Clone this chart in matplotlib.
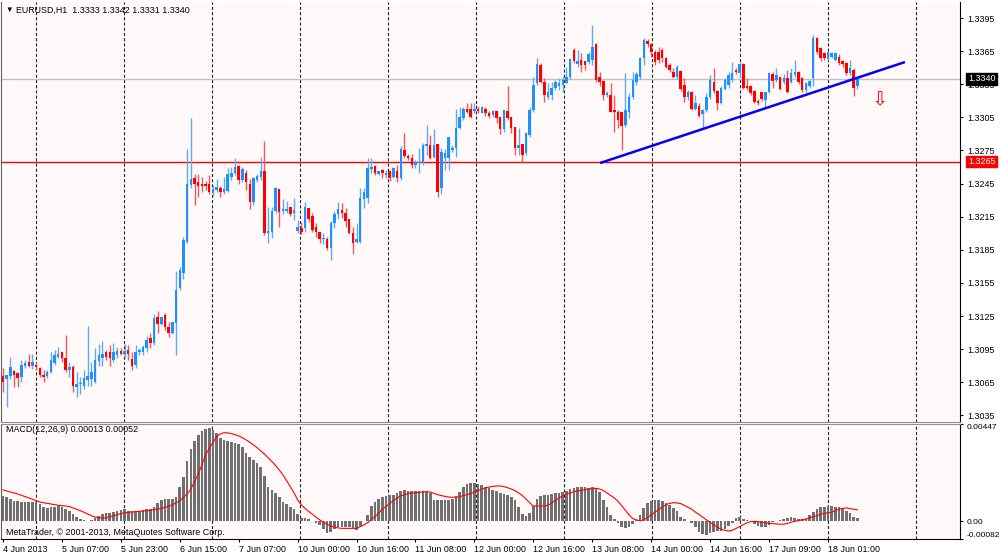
import numpy as np
import matplotlib
matplotlib.use('Agg')
import matplotlib.pyplot as plt
from matplotlib.transforms import blended_transform_factory
from matplotlib.patches import Rectangle

plt.rcParams['font.family'] = ['Liberation Sans', 'DejaVu Sans']

# ---------------- data (EURUSD H1, prices in units of 0.0001) ----------------
open_pts = [13071,13068,13071,13075,13073,13070,13080,13083,13080,13081,13078,13072,13071,13074,13082,13088,13092,13087,13076,13079,
13061,13063,13062,13067,13068,13065,13084,13087,13092,13092,13085,13090,13093,13091,13094,13086,13081,13092,13092,13096,
13105,13101,13124,13118,13126,13115,13110,13119,13150,13164,13192,13244,13250,13246,13245,13245,13245,13237,13239,13241,
13237,13238,13251,13255,13261,13248,13255,13245,13228,13248,13251,13256,13200,13201,13220,13240,13220,13220,13224,13218,
13202,13205,13205,13223,13216,13206,13201,13195,13195,13187,13209,13217,13221,13218,13213,13200,13192,13192,13231,13232,
13258,13261,13254,13257,13253,13256,13251,13256,13250,13275,13270,13268,13262,13264,13265,13279,13280,13269,13281,13241,
13268,13268,13275,13277,13295,13304,13313,13313,13311,13313,13309,13313,13309,13307,13311,13305,13294,13311,13305,13296,
13277,13281,13273,13289,13312,13336,13352,13337,13323,13325,13332,13333,13334,13336,13342,13366,13353,13357,13356,13355,
13357,13371,13342,13338,13325,13325,13312,13310,13310,13298,13310,13323,13337,13342,13359,13374,13371,13364,13364,13366,
13359,13352,13346,13342,13347,13334,13323,13328,13313,13315,13308,13312,13323,13337,13329,13318,13331,13334,13339,13348,
13345,13353,13333,13333,13329,13320,13328,13321,13328,13344,13339,13342,13337,13341,13337,13343,13346,13341,13330,13333,
13341,13377,13368,13363,13358,13360,13357,13360,13356,13354,13345,13348,13333]
high_pts = [13078,13072,13088,13076,13074,13085,13085,13091,13091,13083,13079,13076,13076,13092,13094,13097,13092,13108,13083,13081,
13074,13070,13076,13116,13083,13096,13100,13102,13094,13099,13101,13097,13096,13100,13099,13092,13099,13096,13099,13107,
13110,13127,13130,13124,13128,13120,13120,13166,13169,13197,13276,13304,13254,13254,13251,13247,13253,13244,13249,13243,
13251,13259,13260,13268,13262,13260,13257,13249,13251,13254,13269,13284,13224,13224,13242,13240,13231,13229,13224,13232,
13212,13210,13228,13223,13218,13209,13201,13200,13197,13211,13220,13228,13227,13223,13213,13206,13209,13241,13241,13268,
13268,13262,13256,13258,13257,13256,13260,13262,13279,13291,13272,13272,13266,13277,13282,13298,13289,13294,13281,13277,
13276,13287,13280,13313,13314,13314,13318,13318,13318,13315,13315,13314,13311,13312,13311,13305,13312,13333,13305,13296,
13295,13281,13292,13314,13342,13359,13354,13341,13336,13337,13339,13341,13342,13351,13359,13368,13366,13363,13356,13364,
13389,13372,13346,13339,13329,13336,13325,13312,13310,13345,13327,13346,13346,13360,13377,13376,13372,13366,13369,13368,
13360,13354,13350,13352,13348,13341,13330,13329,13325,13318,13313,13327,13343,13350,13330,13333,13341,13346,13355,13350,
13355,13354,13341,13334,13330,13322,13328,13328,13346,13346,13350,13342,13344,13348,13350,13357,13347,13342,13337,13339,
13380,13378,13369,13364,13365,13364,13364,13362,13357,13355,13357,13350,13342]
low_pts = [13056,13043,13068,13061,13061,13065,13078,13079,13077,13076,13070,13065,13069,13073,13081,13087,13083,13074,13070,13056,
13052,13054,13059,13062,13062,13064,13080,13080,13085,13080,13083,13087,13090,13087,13085,13076,13078,13090,13090,13092,
13096,13099,13110,13117,13112,13106,13109,13090,13149,13159,13191,13241,13226,13233,13237,13239,13236,13234,13237,13233,
13236,13237,13248,13253,13245,13246,13239,13222,13226,13246,13248,13198,13191,13196,13218,13206,13217,13218,13216,13212,
13200,13199,13201,13210,13201,13197,13191,13190,13185,13176,13205,13213,13214,13206,13199,13181,13191,13191,13223,13227,
13255,13253,13253,13250,13250,13247,13250,13246,13248,13268,13266,13259,13259,13255,13262,13271,13267,13268,13233,13236,
13257,13257,13274,13269,13294,13303,13309,13304,13309,13309,13309,13306,13304,13305,13300,13290,13292,13303,13291,13271,
13271,13265,13271,13287,13310,13334,13336,13319,13322,13321,13330,13330,13328,13336,13340,13354,13351,13346,13348,13353,
13352,13337,13333,13321,13323,13310,13292,13295,13275,13296,13304,13322,13334,13340,13352,13369,13360,13352,13354,13355,
13350,13346,13341,13340,13329,13319,13321,13312,13312,13305,13295,13310,13322,13327,13312,13317,13330,13332,13337,13344,
13341,13331,13330,13325,13318,13316,13320,13314,13327,13332,13337,13330,13335,13327,13336,13342,13335,13328,13328,13332,
13333,13362,13356,13357,13357,13359,13356,13352,13351,13343,13343,13324,13331]
close_pts = [13065,13072,13079,13072,13069,13081,13082,13080,13083,13079,13072,13070,13074,13085,13090,13091,13087,13076,13079,13062,
13063,13064,13069,13071,13074,13085,13090,13091,13088,13087,13092,13093,13091,13093,13091,13080,13092,13094,13097,13103,
13101,13123,13118,13124,13115,13110,13120,13149,13167,13194,13245,13249,13245,13243,13243,13243,13237,13240,13242,13237,
13240,13254,13255,13260,13248,13258,13246,13228,13250,13252,13256,13200,13202,13220,13241,13219,13222,13222,13217,13221,
13206,13201,13224,13213,13203,13201,13195,13196,13187,13209,13217,13222,13218,13211,13200,13191,13195,13232,13237,13259,
13260,13255,13256,13255,13255,13250,13259,13250,13276,13270,13268,13262,13265,13265,13280,13281,13268,13280,13237,13274,
13273,13287,13277,13295,13305,13313,13310,13305,13313,13311,13314,13309,13306,13311,13304,13294,13312,13304,13295,13277,
13280,13271,13291,13312,13334,13353,13337,13325,13328,13332,13337,13336,13339,13342,13358,13356,13356,13352,13352,13362,
13369,13339,13337,13325,13327,13310,13310,13303,13297,13312,13323,13339,13344,13359,13375,13371,13364,13355,13357,13359,
13351,13348,13342,13351,13331,13323,13328,13313,13318,13306,13312,13323,13339,13329,13318,13332,13339,13343,13345,13346,
13353,13332,13332,13327,13319,13318,13322,13328,13345,13338,13343,13331,13341,13328,13345,13346,13337,13330,13336,13338,
13377,13364,13359,13359,13364,13363,13363,13354,13353,13345,13350,13332,13340]

# MACD(12,26,9) main (histogram) and signal, in units of 0.00001
macd_main_e5 = [116,110,104,94,91,90,90,90,90,87,79,67,59,64,67,70,64,58,48,33,
18,9,4,2,6,13,24,32,36,39,42,47,52,55,48,47,47,48,50,55,
58,64,82,98,102,104,102,110,159,202,279,331,371,398,414,424,427,420,404,381,
374,369,366,361,355,343,315,294,282,269,251,208,159,144,128,110,90,78,64,55,
33,16,13,10,2,-10,-19,-34,-56,-50,-37,-28,-28,-25,-28,-33,-40,-22,2,29,
70,88,101,110,116,119,119,128,137,144,141,139,139,139,139,136,131,98,98,98,
98,98,101,116,136,156,170,174,174,171,165,159,151,144,139,131,125,121,110,98,
64,32,25,36,70,104,116,121,122,125,128,131,136,141,147,151,156,157,156,153,
159,151,136,98,64,29,9,-7,-28,-33,-25,-13,6,27,59,82,93,98,98,93,
85,73,62,45,21,9,2,-10,-25,-48,-60,-64,-56,-50,-47,-44,-34,-22,-10,16,
18,12,6,-1,-13,-22,-28,-25,-16,-5,-1,6,9,16,21,16,10,9,12,29,
42,56,64,67,70,70,67,64,58,47,36,21,13]
macd_signal_e5 = [144,139,134,130,125,119,113,107,101,94,88,85,82,79,76,73,71,70,67,61,
55,48,41,33,25,19,16,15,15,21,25,30,35,38,41,42,44,45,47,48,
50,53,56,59,64,68,75,85,93,110,125,147,182,216,259,305,335,361,389,401,
407,406,403,398,392,384,374,363,351,338,323,309,292,274,256,236,213,187,159,131,
98,75,59,45,32,18,6,-5,-14,-22,-27,-31,-33,-33,-33,-33,-33,-25,-17,-7,
6,21,36,55,67,82,94,107,116,122,127,130,131,133,134,136,134,128,122,118,
114,111,110,110,113,118,122,128,134,141,147,153,157,160,162,162,159,154,148,141,
130,118,102,85,70,70,70,70,73,84,96,107,116,125,130,136,139,142,145,148,
150,151,148,141,130,118,107,91,71,50,29,12,6,2,7,16,29,41,53,65,
76,82,85,84,81,73,64,55,42,30,18,6,-5,-17,-28,-37,-42,-45,-42,-34,
-25,-16,-8,-2,-1,-2,-4,-7,-10,-11,-13,-14,-14,-10,-5,-1,2,7,10,15,
21,25,32,36,39,41,48,55,59,61,58,55,52]

time_label_idx = [0, 16, 32, 48, 64, 80, 96, 112, 128, 144, 160, 176, 192, 208, 224]
time_labels = ['4 Jun 2013', '5 Jun 07:00', '5 Jun 23:00', '6 Jun 15:00', '7 Jun 07:00',
               '10 Jun 00:00', '10 Jun 16:00', '11 Jun 08:00', '12 Jun 00:00', '12 Jun 16:00',
               '13 Jun 08:00', '14 Jun 00:00', '14 Jun 16:00', '17 Jun 09:00', '18 Jun 01:00']
price_ticks = [1.3035, 1.3065, 1.3095, 1.3125, 1.3155, 1.3185, 1.3215, 1.3245,
               1.3275, 1.3305, 1.3335, 1.3365, 1.3395]
bid_price = 1.3340
level_price = 1.3265
trend_idx = [162.1, 244.9]
trend_price = [1.32636, 1.33551]
arrow_idx, arrow_price = 238.1, 1.33207
macd_ticks = [-0.00082, 0.0, 0.00447]
header = 'EURUSD,H1  1.3333 1.3342 1.3331 1.3340'
macd_header = 'MACD(12,26,9) 0.00013 0.00052'

# ---------------- figure ----------------
FS = 6.4
opens = np.array(open_pts) / 1e4
highs = np.array(high_pts) / 1e4
lows = np.array(low_pts) / 1e4
closes = np.array(close_pts) / 1e4
macd_main = np.array(macd_main_e5) / 1e5
macd_signal = np.array(macd_signal_e5) / 1e5
x = np.arange(len(opens))

W, H = 1000, 557
fig = plt.figure(figsize=(W / 100, H / 100), dpi=100, facecolor='white')
bg = '#FFFAF9'
ax = fig.add_axes([1 / W, 1 - 422 / H, 959 / W, 420 / H], facecolor=bg)
ax2 = fig.add_axes([1 / W, 18 / H, 959 / W, 115 / H], facecolor=bg)

xlim = (-0.543, 259.85)
for a in (ax, ax2):
    a.set_xlim(*xlim)
    for gx in np.arange(11) * 23.9 + 8.95:
        a.axvline(gx, color='#202020', lw=0.8, ls=(0, (2.8, 1.9)), zorder=1)
    a.spines['left'].set_color('#606060')
    a.spines['right'].set_color('black')

ax.set_ylim(1.30290, 1.34095)
ax2.set_ylim(-0.00082, 0.00447)

# horizontal lines
ax.axhline(bid_price, color='#C0C0C0', lw=1, zorder=1.5)
ax.axhline(level_price, color='#FF0000', lw=1, zorder=1.5)

# candles
up = closes >= opens
body_bottom = np.minimum(opens, closes)
body_h = np.maximum(np.abs(closes - opens), 0.00008)
ax.vlines(x[up], lows[up], highs[up], color='#5EAAF5', lw=1, zorder=2)
ax.vlines(x[~up], lows[~up], highs[~up], color='#F05A5A', lw=1, zorder=2)
ax.bar(x[up], body_h[up], bottom=body_bottom[up], width=0.68, color='#1E90FF', linewidth=0, zorder=3)
ax.bar(x[~up], body_h[~up], bottom=body_bottom[~up], width=0.68, color='#FF0000', linewidth=0, zorder=3)

# trend line and arrow
ax.plot(trend_idx, trend_price, color='#0000FF', lw=1.8, zorder=4, solid_capstyle='butt')
ax.text(arrow_idx, arrow_price, '\u21e9', color='#FF0000', fontsize=14, ha='center', va='center',
        family=['DejaVu Sans'], zorder=5)

# price axis
ax.yaxis.tick_right()
ax.set_yticks(price_ticks)
ax.set_yticklabels(['%.4f' % p for p in price_ticks])
ax.tick_params(axis='y', direction='out', length=2.5, width=0.8, pad=3, labelsize=FS)
ax.set_xticks([])
ax.spines['top'].set_visible(False)
ax.spines['bottom'].set_color('#909090')

trans = blended_transform_factory(ax.transAxes, ax.transData)
for price, col in ((bid_price, 'black'), (level_price, '#FF0000')):
    ax.add_patch(Rectangle((1.0063, price - 0.00053), 0.0323, 0.00106, transform=trans,
                           facecolor=col, edgecolor=col, clip_on=False, zorder=10))
    ax.text(1.0085, price, '%.4f' % price, transform=trans, color='white', fontsize=FS,
            ha='left', va='center', zorder=11, clip_on=False)

ax.text(0.005, 0.981, '\u25bc', transform=ax.transAxes, fontsize=5.5, va='center', ha='left')
ax.text(0.0156, 0.981, header, transform=ax.transAxes, fontsize=FS, va='center', ha='left')

# MACD panel
ax2.bar(x, macd_main, width=0.72, color='#707070', linewidth=0, zorder=2)
ax2.plot(x, macd_signal, color='#FF0000', lw=0.8, zorder=3)
ax2.yaxis.tick_right()
ax2.set_yticks(macd_ticks)
ax2.set_yticklabels(['-0.00082', '0.00', '0.00447'])
ax2.tick_params(axis='y', direction='out', length=2.5, width=0.8, pad=2, labelsize=6.0)
ylabs = ax2.get_yticklabels()
ylabs[0].set_va('bottom')
ylabs[2].set_va('top')
ax2.set_xticks(time_label_idx)
ax2.set_xticklabels(time_labels, ha='left', fontsize=FS)
ax2.tick_params(axis='x', direction='out', length=2.5, width=0.8, pad=1.5)
ax2.spines['top'].set_color('#909090')
ax2.spines['bottom'].set_color('black')
ax2.text(0.005, 0.948, macd_header, transform=ax2.transAxes, fontsize=FS, va='center', ha='left')
ax2.text(0.005, 0.06, 'MetaTrader, \u00a9 2001-2013, MetaQuotes Software Corp.', transform=ax2.transAxes,
         fontsize=FS, va='center', ha='left')

fig.savefig('out.png', dpi=100, facecolor='white')
